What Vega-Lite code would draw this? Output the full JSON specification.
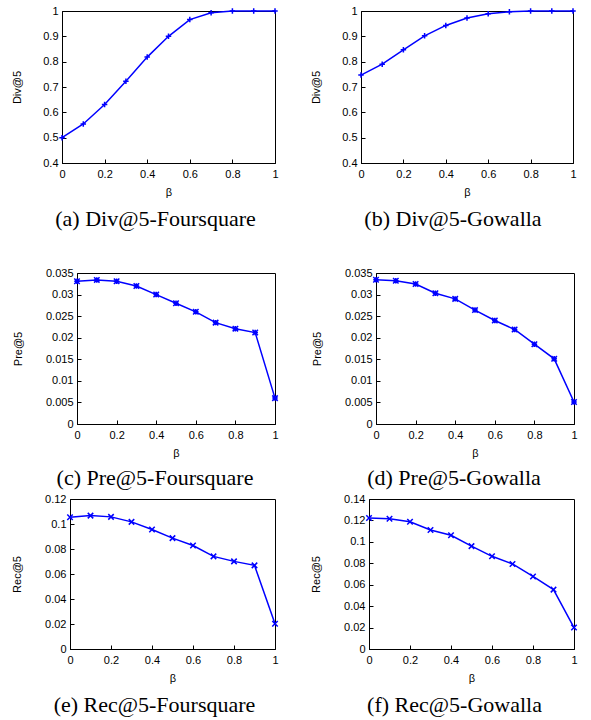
{
  "$schema": "https://vega.github.io/schema/vega-lite/v6.json",
  "padding": {"left": 4, "top": 4, "right": 5, "bottom": 0},
  "background": "white",
  "config": {
    "view": {"stroke": "#000", "strokeWidth": 1},
    "axis": {
      "labelFont": "Liberation Sans", "labelFontSize": 11, "labelColor": "#000",
      "titleFont": "Liberation Sans", "titleFontSize": 11, "titleFontWeight": "normal", "titleColor": "#000",
      "grid": false, "domainColor": "#000", "tickColor": "#000", "tickSize": -4, "labelFlush": false, "labelOverlap": false
    },
    "axisX": {"labelPadding": 9, "titlePadding": 7},
    "axisY": {"labelPadding": 8, "minExtent": 0},
    "title": {"font": "Liberation Serif", "fontSize": 22, "fontWeight": "normal", "color": "#000", "orient": "bottom", "frame": "group", "anchor": "middle", "offset": 12}
  },
  "datasets": {
    "spacer": [{"k": 0}],
    "divF": [
      {"beta": 0, "v": 0.5}, {"beta": 0.1, "v": 0.554}, {"beta": 0.2, "v": 0.631}, {"beta": 0.3, "v": 0.723},
      {"beta": 0.4, "v": 0.818}, {"beta": 0.5, "v": 0.9}, {"beta": 0.6, "v": 0.966}, {"beta": 0.7, "v": 0.993},
      {"beta": 0.8, "v": 1.0}, {"beta": 0.9, "v": 1.0}, {"beta": 1.0, "v": 1.0}
    ],
    "divG": [
      {"beta": 0, "v": 0.747}, {"beta": 0.1, "v": 0.79}, {"beta": 0.2, "v": 0.847}, {"beta": 0.3, "v": 0.902},
      {"beta": 0.4, "v": 0.943}, {"beta": 0.5, "v": 0.972}, {"beta": 0.6, "v": 0.989}, {"beta": 0.7, "v": 0.997},
      {"beta": 0.8, "v": 1.0}, {"beta": 0.9, "v": 1.0}, {"beta": 1.0, "v": 1.0}
    ],
    "preF": [
      {"beta": 0, "v": 0.0331}, {"beta": 0.1, "v": 0.0334}, {"beta": 0.2, "v": 0.0331}, {"beta": 0.3, "v": 0.0320},
      {"beta": 0.4, "v": 0.0300}, {"beta": 0.5, "v": 0.0280}, {"beta": 0.6, "v": 0.0260}, {"beta": 0.7, "v": 0.0235},
      {"beta": 0.8, "v": 0.0221}, {"beta": 0.9, "v": 0.0212}, {"beta": 1.0, "v": 0.0060}
    ],
    "preG": [
      {"beta": 0, "v": 0.03345}, {"beta": 0.1, "v": 0.0332}, {"beta": 0.2, "v": 0.03245}, {"beta": 0.3, "v": 0.0303},
      {"beta": 0.4, "v": 0.0290}, {"beta": 0.5, "v": 0.0264}, {"beta": 0.6, "v": 0.0240}, {"beta": 0.7, "v": 0.0219},
      {"beta": 0.8, "v": 0.0185}, {"beta": 0.9, "v": 0.0151}, {"beta": 1.0, "v": 0.0051}
    ],
    "recF": [
      {"beta": 0, "v": 0.1054}, {"beta": 0.1, "v": 0.1067}, {"beta": 0.2, "v": 0.1057}, {"beta": 0.3, "v": 0.1017},
      {"beta": 0.4, "v": 0.0956}, {"beta": 0.5, "v": 0.0887}, {"beta": 0.6, "v": 0.0828}, {"beta": 0.7, "v": 0.0741},
      {"beta": 0.8, "v": 0.0701}, {"beta": 0.9, "v": 0.0669}, {"beta": 1.0, "v": 0.0202}
    ],
    "recG": [
      {"beta": 0, "v": 0.1222}, {"beta": 0.1, "v": 0.1215}, {"beta": 0.2, "v": 0.1188}, {"beta": 0.3, "v": 0.1111},
      {"beta": 0.4, "v": 0.1062}, {"beta": 0.5, "v": 0.0960}, {"beta": 0.6, "v": 0.0865}, {"beta": 0.7, "v": 0.0794},
      {"beta": 0.8, "v": 0.0677}, {"beta": 0.9, "v": 0.0554}, {"beta": 1.0, "v": 0.0200}
    ]
  },
  "spacing": 35,
  "vconcat": [
    {
      "spacing": 0,
      "hconcat": [
        {"width": 1, "height": 1, "data": {"name": "spacer"}, "view": {"stroke": null}, "mark": {"type": "point", "opacity": 0}},
        {
          "spacing": 28,
          "hconcat": [
            {
              "width": 213, "height": 152,
              "data": {"name": "divF"},
              "title": {"text": "(a) Div@5-Foursquare", "dx": -13},
              "encoding": {
                "x": {"field": "beta", "type": "quantitative", "scale": {"domain": [0, 1], "nice": false, "zero": false}, "axis": {"title": "β", "values": [0, 0.2, 0.4, 0.6, 0.8, 1], "format": "~g"}},
                "y": {"field": "v", "type": "quantitative", "scale": {"domain": [0.4, 1], "nice": false, "zero": false}, "axis": {"title": "Div@5", "values": [0.4, 0.5, 0.6, 0.7, 0.8, 0.9, 1], "format": "~g", "titlePadding": 20}}
              },
              "layer": [
                {"mark": {"type": "line", "color": "#0000ff", "strokeWidth": 1.5, "clip": false}},
                {"mark": {"type": "point", "shape": "M-1,0L1,0M0,-1L0,1", "filled": false, "color": "#0000ff", "strokeWidth": 1.5, "size": 30, "opacity": 1}}
              ]
            },
            {
              "width": 212, "height": 152,
              "data": {"name": "divG"},
              "title": {"text": "(b) Div@5-Gowalla", "dx": -14},
              "encoding": {
                "x": {"field": "beta", "type": "quantitative", "scale": {"domain": [0, 1], "nice": false, "zero": false}, "axis": {"title": "β", "values": [0, 0.2, 0.4, 0.6, 0.8, 1], "format": "~g"}},
                "y": {"field": "v", "type": "quantitative", "scale": {"domain": [0.4, 1], "nice": false, "zero": false}, "axis": {"title": "Div@5", "values": [0.4, 0.5, 0.6, 0.7, 0.8, 0.9, 1], "format": "~g", "titlePadding": 20}}
              },
              "layer": [
                {"mark": {"type": "line", "color": "#0000ff", "strokeWidth": 1.5, "clip": false}},
                {"mark": {"type": "point", "shape": "M-1,0L1,0M0,-1L0,1", "filled": false, "color": "#0000ff", "strokeWidth": 1.5, "size": 30, "opacity": 1}}
              ]
            }
          ]
        }
      ]
    },
    {
      "spacing": 2,
      "vconcat": [
        {
          "spacing": 0,
          "hconcat": [
            {"width": 1, "height": 1, "data": {"name": "spacer"}, "view": {"stroke": null}, "mark": {"type": "point", "opacity": 0}},
            {
              "spacing": 28,
              "hconcat": [
                {
                  "width": 198, "height": 151,
                  "data": {"name": "preF"},
                  "title": {"text": "(c) Pre@5-Foursquare", "dx": -21, "offset": 10},
                  "encoding": {
                    "x": {"field": "beta", "type": "quantitative", "scale": {"domain": [0, 1], "nice": false, "zero": false}, "axis": {"title": "β", "values": [0, 0.2, 0.4, 0.6, 0.8, 1], "format": "~g"}},
                    "y": {"field": "v", "type": "quantitative", "scale": {"domain": [0, 0.035], "nice": false, "zero": false}, "axis": {"title": "Pre@5", "values": [0, 0.005, 0.01, 0.015, 0.02, 0.025, 0.03, 0.035], "format": "~g", "titlePadding": 22}}
                  },
                  "layer": [
                    {"mark": {"type": "line", "color": "#0000ff", "strokeWidth": 1.5, "clip": false}},
                    {"mark": {"type": "point", "shape": "M-1,-1L1,1M-1,1L1,-1M-1,0L1,0M0,-1L0,1", "filled": false, "color": "#0000ff", "strokeWidth": 1.5, "size": 30, "opacity": 1}}
                  ]
                },
                {
                  "width": 198, "height": 151,
                  "data": {"name": "preG"},
                  "title": {"text": "(d) Pre@5-Gowalla", "dx": -21, "offset": 10},
                  "encoding": {
                    "x": {"field": "beta", "type": "quantitative", "scale": {"domain": [0, 1], "nice": false, "zero": false}, "axis": {"title": "β", "values": [0, 0.2, 0.4, 0.6, 0.8, 1], "format": "~g"}},
                    "y": {"field": "v", "type": "quantitative", "scale": {"domain": [0, 0.035], "nice": false, "zero": false}, "axis": {"title": "Pre@5", "values": [0, 0.005, 0.01, 0.015, 0.02, 0.025, 0.03, 0.035], "format": "~g", "titlePadding": 22}}
                  },
                  "layer": [
                    {"mark": {"type": "line", "color": "#0000ff", "strokeWidth": 1.5, "clip": false}},
                    {"mark": {"type": "point", "shape": "M-1,-1L1,1M-1,1L1,-1M-1,0L1,0M0,-1L0,1", "filled": false, "color": "#0000ff", "strokeWidth": 1.5, "size": 30, "opacity": 1}}
                  ]
                }
              ]
            }
          ]
        },
        {
          "spacing": 0,
          "hconcat": [
            {"width": 1, "height": 1, "data": {"name": "spacer"}, "view": {"stroke": null}, "mark": {"type": "point", "opacity": 0}},
            {
              "spacing": 28,
              "hconcat": [
                {
                  "width": 205, "height": 150,
                  "data": {"name": "recF"},
                  "title": {"text": "(e) Rec@5-Foursquare", "dx": -18},
                  "encoding": {
                    "x": {"field": "beta", "type": "quantitative", "scale": {"domain": [0, 1], "nice": false, "zero": false}, "axis": {"title": "β", "values": [0, 0.2, 0.4, 0.6, 0.8, 1], "format": "~g"}},
                    "y": {"field": "v", "type": "quantitative", "scale": {"domain": [0, 0.12], "nice": false, "zero": false}, "axis": {"title": "Rec@5", "values": [0, 0.02, 0.04, 0.06, 0.08, 0.1, 0.12], "format": ".2~f", "titlePadding": 22}}
                  },
                  "layer": [
                    {"mark": {"type": "line", "color": "#0000ff", "strokeWidth": 1.5, "clip": false}},
                    {"mark": {"type": "point", "shape": "M-1,-1L1,1M-1,1L1,-1", "filled": false, "color": "#0000ff", "strokeWidth": 1.5, "size": 30, "opacity": 1}}
                  ]
                },
                {
                  "width": 205, "height": 150,
                  "data": {"name": "recG"},
                  "title": {"text": "(f) Rec@5-Gowalla", "dx": -17},
                  "encoding": {
                    "x": {"field": "beta", "type": "quantitative", "scale": {"domain": [0, 1], "nice": false, "zero": false}, "axis": {"title": "β", "values": [0, 0.2, 0.4, 0.6, 0.8, 1], "format": "~g"}},
                    "y": {"field": "v", "type": "quantitative", "scale": {"domain": [0, 0.14], "nice": false, "zero": false}, "axis": {"title": "Rec@5", "values": [0, 0.02, 0.04, 0.06, 0.08, 0.1, 0.12, 0.14], "format": "~g", "titlePadding": 22}}
                  },
                  "layer": [
                    {"mark": {"type": "line", "color": "#0000ff", "strokeWidth": 1.5, "clip": false}},
                    {"mark": {"type": "point", "shape": "M-1,-1L1,1M-1,1L1,-1", "filled": false, "color": "#0000ff", "strokeWidth": 1.5, "size": 30, "opacity": 1}}
                  ]
                }
              ]
            }
          ]
        }
      ]
    }
  ]
}
